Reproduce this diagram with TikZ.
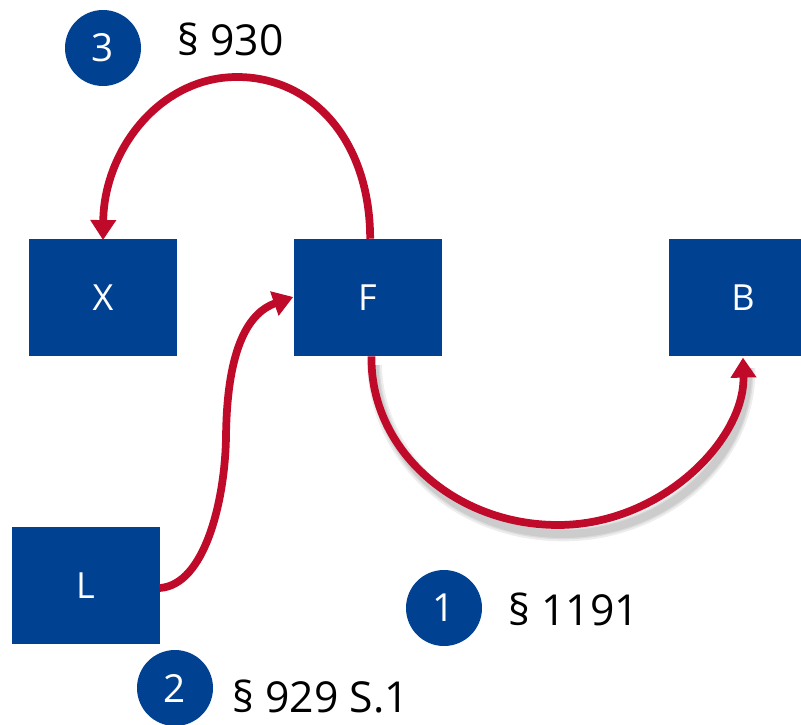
\documentclass[tikz,border=0pt]{standalone}
\usepackage{fontspec}
\setmainfont{Open Sans}
\usetikzlibrary{arrows.meta}
\definecolor{nblue}{RGB}{0,65,145}
\definecolor{nred}{RGB}{192,10,42}
\begin{document}
\begin{tikzpicture}[x=0.75pt,y=-0.75pt,
 box/.style={fill=nblue, minimum width=111pt, minimum height=87.75pt, inner sep=0, text=white, font=\fontsize{27}{32}\selectfont},
 num/.style={circle, fill=nblue, minimum size=57pt, inner sep=0, text=white, font=\fontsize{29}{34}\selectfont},
 lbl/.style={anchor=base west, inner sep=0, font=\fontsize{32}{38}\selectfont},
 conn/.style={draw=nred, line width=5.8pt, -{Triangle[length=15pt,width=18.5pt]}},
 shade/.style={draw=black, line width=#1, opacity=0.07}]
\path[use as bounding box, clip] (0,0) rectangle (801,725);
\node[box] (X) at (103,297.5) {X};
\node[box] (F) at (367.5,297.5) {F};
\node[box] (B) at (743,297.5) {B};
\node[box] (L) at (85.5,585.5) {L};
\node[num] (n3) at (103,48) {3};
\node[num] (n1) at (444,608) {1};
\node[num] (n2) at (175,688) {2};
\node[lbl] (t3) at (177,55) {§ 930};
\node[lbl] (t1) at (508,625) {§ 1191};
\node[lbl] (t2) at (232,712) {§ 929 S.1};
% shadow of F -> B
\foreach \w in {11pt,8pt,6pt}{
\draw[shade=\w] ([shift={(7,9)}]F.south) .. controls (377,458) and (458,534) .. (563,534) .. controls (665,534) and (750,458) .. ([shift={(5,12)}]B.south);
}
% F -> B
\draw[conn] ([xshift=3pt]F.south) .. controls (370,449) and (454,525) .. (558,525) .. controls (661,525) and (745,440) .. ([yshift=-1pt]B.south);
% L -> F
\draw[conn] (L.east |- 0,588) .. controls (205,585) and (225,500) .. (226,437) .. controls (227,345) and (250,312) .. (F.west |- 0,297);
% F -> X
\draw[conn] ([xshift=2pt]F.north) .. controls (370,140) and (312,77) .. (237,77) .. controls (160,77) and (104,150) .. ([yshift=-1pt]X.north);
\end{tikzpicture}
\end{document}
